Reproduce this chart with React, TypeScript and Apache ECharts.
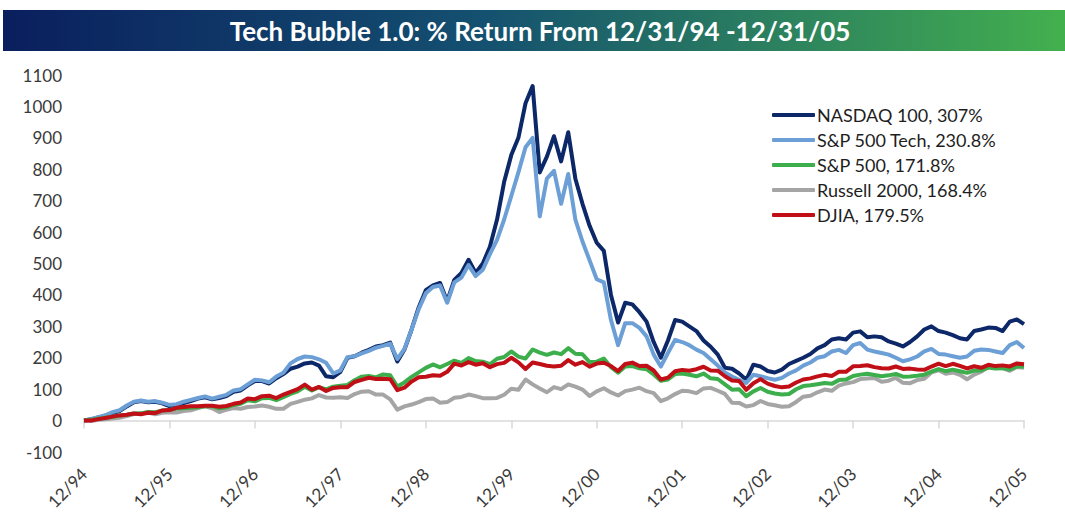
import React, { useEffect, useRef } from "react";
import * as echarts from "echarts";

const tickLabels = ["12/94", "12/95", "12/96", "12/97", "12/98", "12/99", "12/00", "12/01", "12/02", "12/03", "12/04", "12/05"];

const seriesNames = ["NASDAQ 100, 307%", "S&P 500 Tech, 230.8%", "S&P 500, 171.8%", "Russell 2000, 168.4%", "DJIA, 179.5%"];

// monthly % return, 12/94 .. 12/05 (133 points)
const nasdaq100 = [
  0, 4, 10, 15, 24, 30, 45, 58, 62, 58, 60, 55, 46,
  48, 56, 62, 70, 74, 68, 72, 78, 92, 96, 112, 126,
  126, 118, 135, 148, 165, 172, 182, 185, 175, 141, 138, 155,
  200, 205, 216, 225, 236, 240, 248, 188, 226, 290, 360, 415,
  430, 438, 380, 448, 470, 512, 470, 500, 553, 640, 760, 845,
  900, 1010, 1065, 790, 840, 905, 825, 918, 770, 690, 620, 566,
  540, 400, 312, 375, 370, 345, 315, 250, 200, 255, 320, 315,
  300, 285, 255, 235, 210, 168, 165, 150, 130, 178, 172, 158,
  153, 162, 180, 190, 200, 212, 230, 240, 258, 262, 258, 280,
  284, 265, 268, 265, 252, 245, 236, 250, 268, 290, 300, 285,
  280, 272, 262, 258, 285, 290, 296, 295, 285, 315, 322, 307,
];

const sp500Tech = [
  0, 5, 11, 17, 27, 33, 48, 60, 64, 60, 62, 57, 50,
  52, 60, 66, 72, 77, 70, 76, 82, 96, 100, 115, 130,
  128, 122, 140, 152, 182, 196, 204, 202, 195, 184, 150, 160,
  202, 205, 214, 222, 232, 238, 245, 196, 228, 290, 355, 405,
  425, 430, 375, 440, 455, 495, 460, 480, 530, 575, 640, 715,
  790, 870, 900, 650, 770, 795, 690, 785, 640, 570, 510, 450,
  440, 320, 240, 310, 310, 295, 268, 210, 172, 215, 257, 250,
  240, 226, 215, 195, 175, 153, 140, 130, 120, 146, 141, 135,
  130, 136, 150, 160, 175, 185, 200, 205, 220, 225, 215, 240,
  247, 226, 220, 215, 210, 200, 189, 195, 204, 220, 228, 212,
  210, 205, 200, 204, 222, 226, 225, 220, 215, 240, 250, 230.8,
];

const sp500 = [
  0,
  2.4, 6.1, 9.0, 12.1, 16.1, 18.6, 22.4, 22.3, 27.2, 26.6, 31.8, 34.1,
  38.5, 39.4, 40.5, 42.4, 45.7, 46.0, 39.3, 42.0, 49.7, 53.6, 64.8, 61.3,
  71.2, 72.2, 64.9, 74.5, 84.7, 92.7, 107.8, 95.8, 106.3, 99.1, 108.0, 111.3,
  113.4, 128.5, 139.9, 142.1, 137.5, 146.9, 144.0, 108.4, 121.4, 139.2, 153.4, 167.7,
  178.6, 169.6, 180.1, 190.7, 183.5, 198.9, 189.3, 187.5, 179.3, 196.8, 202.4, 219.9,
  203.6, 197.5, 226.3, 216.2, 209.3, 216.7, 211.5, 230.5, 212.8, 211.2, 186.3, 187.5,
  197.4, 170.0, 152.6, 172.1, 173.4, 166.6, 163.7, 146.8, 126.7, 130.8, 148.1, 150.0,
  146.1, 141.0, 149.8, 134.5, 132.4, 115.5, 98.5, 99.5, 77.5, 92.9, 103.9, 91.6,
  86.3, 83.1, 84.7, 99.6, 109.8, 112.2, 115.6, 119.5, 116.9, 128.8, 130.4, 142.1,
  146.3, 149.3, 145.2, 141.1, 144.0, 148.4, 139.9, 140.4, 142.7, 146.1, 155.6, 163.9,
  157.2, 162.1, 157.1, 151.9, 159.4, 159.4, 168.7, 165.7, 167.6, 162.8, 172.1, 171.8,
];

const russell2000 = [
  0,
  -1.4, 2.7, 4.2, 6.6, 8.6, 14.2, 20.8, 23.4, 25.5, 19.9, 24.8, 26.2,
  26.0, 30.1, 32.8, 39.9, 45.4, 39.4, 27.2, 34.6, 39.8, 37.8, 43.4, 44.8,
  47.7, 44.1, 37.3, 37.6, 53.0, 59.4, 66.6, 70.6, 81.3, 73.5, 72.4, 74.6,
  71.8, 84.5, 92.1, 93.2, 82.7, 82.7, 67.7, 35.0, 45.2, 51.1, 59.0, 68.5,
  70.6, 56.7, 58.8, 72.9, 75.2, 82.8, 77.8, 71.3, 71.3, 72.1, 82.3, 101.6,
  98.2, 130.7, 115.3, 102.2, 90.2, 106.6, 100.0, 115.2, 108.3, 98.8, 78.1, 93.1,
  103.0, 89.5, 79.9, 93.8, 98.6, 104.7, 93.6, 87.2, 61.7, 71.0, 84.3, 95.1,
  93.0, 87.5, 102.3, 104.1, 95.0, 84.8, 56.7, 56.3, 44.7, 49.3, 62.3, 53.0,
  48.7, 44.2, 45.6, 59.3, 76.1, 79.1, 90.1, 98.7, 94.8, 111.0, 118.3, 122.4,
  132.0, 133.9, 135.8, 123.6, 127.0, 136.3, 120.2, 119.2, 128.8, 133.2, 153.2, 160.3,
  149.2, 153.3, 145.7, 131.4, 146.3, 155.5, 171.5, 167.3, 166.7, 158.3, 170.5, 168.4,
];

const djia = [
  0,
  0.3, 4.6, 8.5, 12.7, 16.5, 18.8, 22.8, 20.3, 24.9, 24.0, 32.4, 33.5,
  40.7, 43.1, 45.7, 45.3, 47.2, 47.5, 44.2, 46.5, 53.4, 57.3, 70.1, 68.2,
  77.7, 79.4, 71.7, 82.8, 91.2, 100.1, 114.5, 98.8, 107.2, 94.1, 104.0, 106.3,
  106.2, 122.9, 129.5, 136.4, 132.1, 133.5, 131.7, 96.6, 104.6, 124.1, 137.8, 139.5,
  144.1, 142.7, 155.2, 181.4, 175.4, 186.2, 177.9, 182.4, 169.6, 179.8, 183.7, 199.9,
  185.4, 164.2, 184.9, 180.0, 174.4, 172.5, 174.4, 192.5, 177.8, 186.2, 171.6, 181.4,
  184.0, 173.7, 157.7, 180.0, 184.6, 173.9, 174.5, 159.5, 130.8, 136.7, 157.0, 161.4,
  158.7, 163.6, 171.4, 159.4, 158.9, 141.1, 127.9, 126.0, 98.0, 119.0, 132.0, 117.6,
  110.1, 105.8, 108.5, 121.2, 130.8, 134.4, 140.8, 145.6, 141.9, 155.6, 155.1, 172.7,
  173.5, 176.1, 170.2, 166.7, 165.7, 172.2, 164.5, 165.4, 162.9, 161.5, 172.0, 181.2,
  173.6, 180.8, 174.0, 165.9, 173.0, 168.0, 177.5, 173.4, 175.7, 172.3, 181.8, 179.5,
];

const seriesValues = [nasdaq100, sp500Tech, sp500, russell2000, djia];
const seriesColors = ["#0c2868", "#6c9fd6", "#3cae4c", "#a5a5a5", "#c00f16"];
const drawOrder = [0, 1, 3, 2, 4];

const FONT = "Lato, 'Open Sans', sans-serif";

export default function App() {
  const ref = useRef<HTMLDivElement>(null);

  useEffect(() => {
    if (!ref.current) return;
    const chart = echarts.init(ref.current, null, { renderer: "svg" });
    const series = drawOrder.map((idx, k) => ({
      name: seriesNames[idx],
      type: "line",
      data: seriesValues[idx].map((v, i) => [i, v]),
      symbol: "none",
      silent: true,
      z: 2 + k,
      lineStyle: { width: 4, color: seriesColors[idx], join: "round" },
      itemStyle: { color: seriesColors[idx] },
    }));
    chart.setOption({
      animation: false,
      backgroundColor: "#ffffff",
      textStyle: { fontFamily: FONT },
      grid: {
        left: 84,
        right: 41,
        top: 75,
        bottom: 63,
        containLabel: false,
        outerBoundsMode: "none",
      },
      graphic: [
        {
          type: "rect",
          shape: { x: 3, y: 10, width: 1062, height: 41 },
          style: {
            fill: new echarts.graphic.LinearGradient(0, 0, 1, 0, [
              { offset: 0, color: "#0a1f5e" },
              { offset: 0.45, color: "#145070" },
              { offset: 1, color: "#43b04e" },
            ]),
          },
          z: 0,
        },
        {
          type: "text",
          x: 540,
          y: 31,
          style: {
            text: "Tech Bubble 1.0: % Return From 12/31/94 -12/31/05",
            fill: "#ffffff",
            font: "bold 26px " + FONT,
            textAlign: "center",
            textVerticalAlign: "middle",
          },
          z: 1,
        },
      ],
      legend: {
        orient: "vertical",
        left: 767,
        top: 101,
        data: seriesNames.map((n, i) => ({
          name: n,
          icon: "roundRect",
          itemStyle: { color: seriesColors[i] },
        })),
        itemWidth: 43,
        itemHeight: 4,
        itemGap: 7,
        textStyle: { fontSize: 18, color: "#1e1e1e", fontFamily: FONT, lineHeight: 17.6, padding: [0, 0, 0, -3] },
        selectedMode: false,
      },
      xAxis: {
        type: "value",
        min: 0,
        max: 132,
        interval: 12,
        axisLine: { show: true, onZero: true, lineStyle: { color: "#d9d9d9", width: 1.5 } },
        axisTick: { show: true, length: 8, lineStyle: { color: "#d9d9d9", width: 1.5 } },
        splitLine: { show: false },
        axisLabel: {
          rotate: 45,
          margin: 19,
          fontSize: 17,
          color: "#3a3a3a",
          fontFamily: FONT,
          formatter: (v: number) => tickLabels[Math.round(v / 12)] ?? "",
        },
      },
      yAxis: {
        type: "value",
        min: -100,
        max: 1100,
        interval: 100,
        axisLine: { show: false },
        axisTick: { show: false },
        splitLine: { show: false },
        axisLabel: {
          fontSize: 17,
          color: "#3a3a3a",
          margin: 22,
          fontFamily: FONT,
          formatter: (v: number) => String(v),
        },
      },
      series,
    });
    return () => chart.dispose();
  }, []);

  return (
    <div
      ref={ref}
      style={{ position: "fixed", left: 0, top: 0, width: 1065, height: 515, background: "#fff" }}
    />
  );
}
